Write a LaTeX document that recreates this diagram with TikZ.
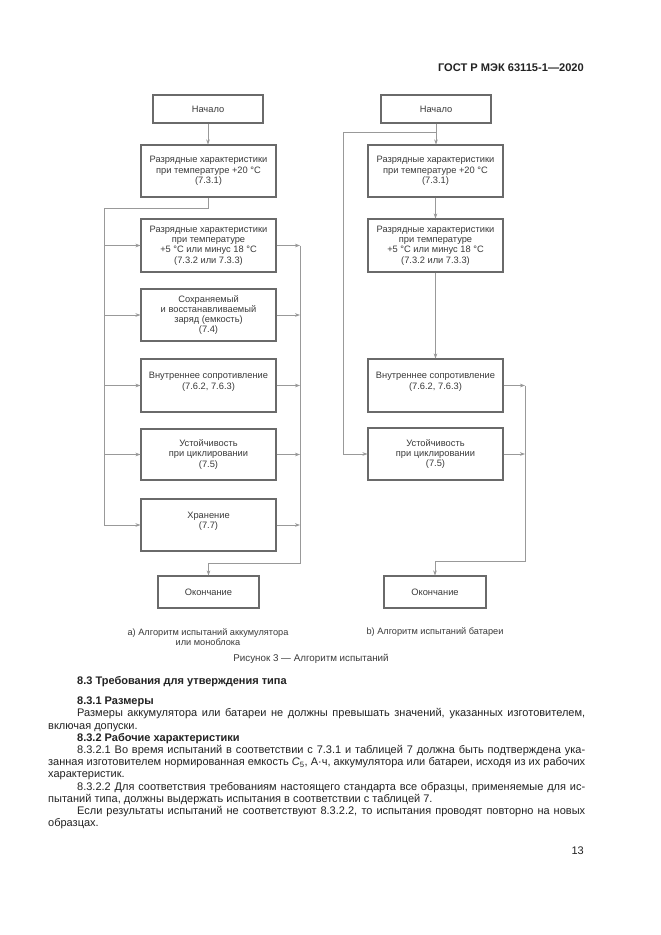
\documentclass[tikz,border=0pt]{standalone}
\usepackage{fontspec}
\setmainfont{Liberation Sans}
\usetikzlibrary{arrows.meta}
\definecolor{boxc}{HTML}{6A6A6A}
\definecolor{linec}{HTML}{999999}
\definecolor{txtc}{HTML}{3A3A3A}
\definecolor{txtb}{HTML}{222222}
\begin{document}
\begin{tikzpicture}[x=1pt,y=-1pt,
  box/.style={draw=boxc, line width=1.05pt, rectangle, align=center, inner sep=0pt,
    font=\fontsize{9.3}{10.3}\selectfont, text=txtc},
  wbox/.style={box, minimum width=135pt},
  conn/.style={draw=linec, line width=0.7pt},
  arr/.style={conn, -{Stealth[length=5pt,width=3.6pt]}},
  captxt/.style={align=center, inner sep=0pt, font=\fontsize{9.2}{10.4}\selectfont, text=txtc}]
\useasboundingbox (0,0) rectangle (661,935);
\fill[white] (0,0) rectangle (661,935);

\node[anchor=east, inner sep=0pt, font=\fontsize{11.1}{12}\selectfont\bfseries, text=txtb] (gost) at (584,68) {ГОСТ Р МЭК 63115-1—2020};

% left chart
\node[box, minimum width=110pt, minimum height=28pt] (L0) at (208,109) {Начало};
\node[wbox, minimum height=52pt] (L1) at (208.5,171) {Разрядные характеристики\\при температуре +20 °C\\(7.3.1)};
\node[wbox, minimum height=53pt] (L2) at (208.5,245.5) {Разрядные характеристики\\при температуре\\+5 °C или минус 18 °C\\(7.3.2 или 7.3.3)};
\node[wbox, minimum height=52pt] (L3) at (208.5,315) {Сохраняемый\\и восстанавливаемый\\заряд (емкость)\\(7.4)};
\node[wbox, minimum height=53pt] (L4) at (208.5,385.5) {Внутреннее сопротивление\\(7.6.2, 7.6.3)\\[-1pt]\mbox{}};
\node[wbox, minimum height=51pt] (L5) at (208.5,454.5) {Устойчивость\\при циклировании\\(7.5)};
\node[wbox, minimum height=52pt] (L6) at (208.5,525) {Хранение\\(7.7)\\[-1pt]\mbox{}};
\node[box, minimum width=101pt, minimum height=32pt] (Lend) at (208.5,592) {Окончание};

\coordinate (lb0) at (104,208);
\coordinate (rb0) at (300,245.5);
\coordinate (rb1) at (300,563);
\draw[arr] (L0.south) -- (L0.south |- L1.north);
\draw[arr] (L1.south) |- (lb0) |- (L6.west);
\draw[arr] (lb0 |- L2.west) -- (L2.west);
\draw[arr] (lb0 |- L3.west) -- (L3.west);
\draw[arr] (lb0 |- L4.west) -- (L4.west);
\draw[arr] (lb0 |- L5.west) -- (L5.west);
\draw[arr] (L2.east) -- (rb0);
\draw[arr] (L3.east) -- (L3.east -| rb0);
\draw[arr] (L4.east) -- (L4.east -| rb0);
\draw[arr] (L5.east) -- (L5.east -| rb0);
\draw[arr] (L6.east) -- (L6.east -| rb0);
\draw[arr] (rb0) -- (rb1) -| (Lend.north);

\node[captxt] (capa) at (208,637) {a) Алгоритм испытаний аккумулятора\\или моноблока};

% right chart
\node[box, minimum width=110pt, minimum height=28pt] (R0) at (436,109) {Начало};
\node[wbox, minimum height=52pt] (R1) at (435.5,171) {Разрядные характеристики\\при температуре +20 °C\\(7.3.1)};
\node[wbox, minimum height=53pt] (R2) at (435.5,245.5) {Разрядные характеристики\\при температуре\\+5 °C или минус 18 °C\\(7.3.2 или 7.3.3)};
\node[wbox, minimum height=53pt] (R3) at (435.5,385.5) {Внутреннее сопротивление\\(7.6.2, 7.6.3)\\[-1pt]\mbox{}};
\node[wbox, minimum height=52pt] (R4) at (435.5,454) {Устойчивость\\при циклировании\\(7.5)};
\node[box, minimum width=102pt, minimum height=32pt] (Rend) at (435,592) {Окончание};

\coordinate (rj) at (436,132);
\coordinate (rl) at (343,132);
\coordinate (rr0) at (525,385.5);
\coordinate (rr1) at (525,561);
\draw[arr] (R0.south) -- (R0.south |- R1.north);
\draw[arr] (rj) -- (rl) |- (R4.west);
\draw[arr] (R1.south) -- (R1.south |- R2.north);
\draw[arr] (R2.south) -- (R2.south |- R3.north);
\draw[arr] (R3.east) -- (rr0);
\draw[arr] (R4.east) -- (R4.east -| rr0);
\draw[arr] (rr0) -- (rr1) -| (Rend.north);

\node[captxt] (capb) at (435,632) {b) Алгоритм испытаний батареи};

\node[captxt, font=\fontsize{9.8}{11}\selectfont] (fig) at (311,659) {Рисунок 3 — Алгоритм испытаний};

% body text
\node[anchor=north west, inner sep=0pt, text width=537pt, align=justify,
  font=\fontsize{11}{12.2}\selectfont, text=txtb] (body) at (48,676) {%
\setlength{\parindent}{29pt}\hyphenpenalty=10000\tolerance=9999
\hspace*{29pt}{\bfseries 8.3 Требования для утверждения типа}\par\vspace{8.3pt}
{\bfseries 8.3.1 Размеры}\par
Размеры аккумулятора или батареи не должны превышать значений, указанных изготовителем,\linebreak
включая допуски.\par
{\bfseries 8.3.2 Рабочие характеристики}\par
8.3.2.1 Во время испытаний в соответствии с 7.3.1 и таблицей 7 должна быть подтверждена ука-\linebreak
занная изготовителем нормированная емкость {\itshape C}\textsubscript{5}, А·ч, аккумулятора или батареи, исходя из их рабочих\linebreak
характеристик.\par
8.3.2.2 Для соответствия требованиям настоящего стандарта все образцы, применяемые для ис-\linebreak
пытаний типа, должны выдержать испытания в соответствии с таблицей 7.\par
Если результаты испытаний не соответствуют 8.3.2.2, то испытания проводят повторно на новых\linebreak
образцах.\par};

\node[anchor=east, inner sep=0pt, font=\fontsize{11}{12}\selectfont, text=txtb] (pnum) at (584,851) {13};
\end{tikzpicture}
\end{document}
